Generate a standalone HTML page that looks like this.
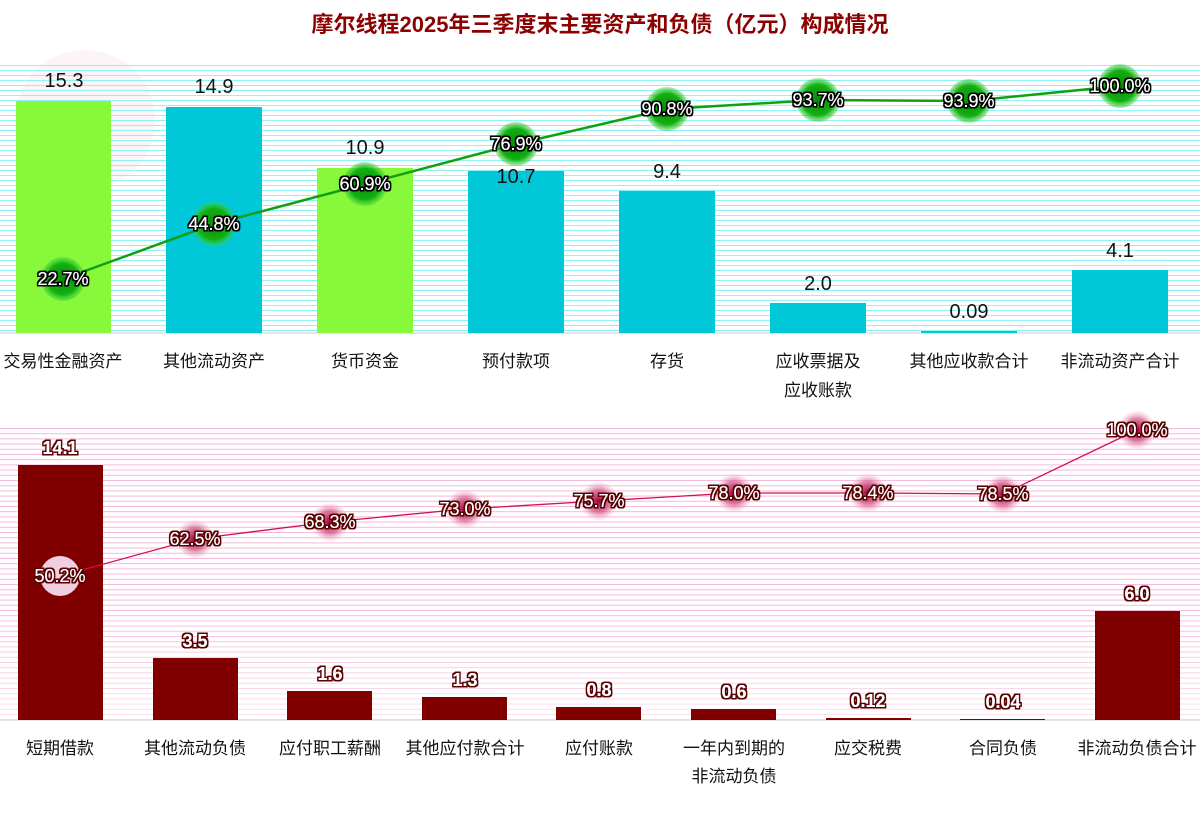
<!DOCTYPE html>
<html><head><meta charset="utf-8"><style>
body{margin:0;background:#fff;}
svg text{font-family:"Liberation Sans","Noto Sans CJK SC",sans-serif;}
</style></head><body>
<svg width="1200" height="821" xmlns="http://www.w3.org/2000/svg">
<defs>
<pattern id="cy" x="0" y="65" width="10" height="5" patternUnits="userSpaceOnUse"><rect x="0" y="0" width="10" height="1" fill="#8ff4f8"/></pattern>
<pattern id="pk" x="0" y="428" width="10" height="5.2" patternUnits="userSpaceOnUse"><rect x="0" y="0" width="10" height="1" fill="#f6b8dc"/></pattern>
<linearGradient id="fade" x1="0" y1="0" x2="0" y2="1"><stop offset="0" stop-color="#fff" stop-opacity="0"/><stop offset="1" stop-color="#fff" stop-opacity="0.6"/></linearGradient>
<radialGradient id="gg"><stop offset="0" stop-color="#0a8a0a"/><stop offset="0.7" stop-color="#12b012"/><stop offset="1" stop-color="#40d040" stop-opacity="0.4"/></radialGradient>
<radialGradient id="pg"><stop offset="0" stop-color="#a0003a"/><stop offset="0.6" stop-color="#d05080" stop-opacity="0.7"/><stop offset="1" stop-color="#f8c0d8" stop-opacity="0.2"/></radialGradient>
<filter id="ol"><feMorphology in="SourceAlpha" operator="dilate" radius="1.5" result="d"/><feFlood flood-color="#000"/><feComposite in2="d" operator="in" result="o"/><feMerge><feMergeNode in="o"/><feMergeNode in="SourceGraphic"/></feMerge></filter>
<filter id="olr"><feMorphology in="SourceAlpha" operator="dilate" radius="1.5" result="d"/><feFlood flood-color="#5a0000"/><feComposite in2="d" operator="in" result="o"/><feMerge><feMergeNode in="o"/><feMergeNode in="SourceGraphic"/></feMerge></filter>
</defs>
<circle cx="85" cy="120" r="70" fill="#fdf5f5"/>
<rect x="0" y="65" width="1200" height="268" fill="url(#cy)"/>
<rect x="0" y="428" width="1200" height="292" fill="url(#pk)"/>
<rect x="0" y="600" width="1200" height="120" fill="url(#fade)"/>
<text x="600" y="32" text-anchor="middle" font-size="22" font-weight="bold" fill="#8b0000" font-family="'Noto Serif CJK SC',serif">摩尔线程2025年三季度末主要资产和负债（亿元）构成情况</text>
<line x1="0" x2="1200" y1="333" y2="333" stroke="#ccc"/>
<line x1="0" x2="1200" y1="720" y2="720" stroke="#ccc"/>
<g>
<rect x="16" y="101" width="95" height="232" fill="#88f83a"/>
<rect x="166" y="107" width="96" height="226" fill="#00c8d8"/>
<rect x="317" y="168" width="96" height="165" fill="#88f83a"/>
<rect x="468" y="171" width="96" height="162" fill="#00c8d8"/>
<rect x="619" y="191" width="96" height="142" fill="#00c8d8"/>
<rect x="770" y="303" width="96" height="30" fill="#00c8d8"/>
<rect x="921" y="331" width="96" height="2" fill="#00c8d8"/>
<rect x="1072" y="270" width="96" height="63" fill="#00c8d8"/>
</g>
<g font-size="20" fill="#111" text-anchor="middle">
<text x="64" y="87">15.3</text><text x="214" y="93">14.9</text><text x="365" y="154">10.9</text><text x="516" y="183">10.7</text><text x="667" y="178">9.4</text><text x="818" y="290">2.0</text><text x="969" y="318">0.09</text><text x="1120" y="257">4.1</text>
</g>
<polyline fill="none" stroke="#10a010" stroke-width="2.5" points="63,279 214,224 365,184 516,144 667,109 818,100 969,101 1120,86"/>
<g fill="url(#gg)">
<circle cx="63" cy="279" r="22"/><circle cx="214" cy="224" r="22"/><circle cx="365" cy="184" r="22"/><circle cx="516" cy="144" r="22"/><circle cx="667" cy="109" r="22"/><circle cx="818" cy="100" r="22"/><circle cx="969" cy="101" r="22"/><circle cx="1120" cy="86" r="22"/>
</g>
<g font-size="18" fill="#fff" text-anchor="middle" filter="url(#ol)">
<text x="63" y="285">22.7%</text><text x="214" y="230">44.8%</text><text x="365" y="190">60.9%</text><text x="516" y="150">76.9%</text><text x="667" y="115">90.8%</text><text x="818" y="106">93.7%</text><text x="969" y="107">93.9%</text><text x="1120" y="92">100.0%</text>
</g>
<g font-size="17" fill="#111" text-anchor="middle">
<text x="63" y="367">交易性金融资产</text><text x="214" y="367">其他流动资产</text><text x="365" y="367">货币资金</text><text x="516" y="367">预付款项</text><text x="667" y="367">存货</text><text x="818" y="367">应收票据及</text><text x="818" y="396">应收账款</text><text x="969" y="367">其他应收款合计</text><text x="1120" y="367">非流动资产合计</text>
</g>
<g fill="#800000">
<rect x="18" y="465" width="85" height="255"/>
<rect x="153" y="658" width="85" height="62"/>
<rect x="287" y="691" width="85" height="29"/>
<rect x="422" y="697" width="85" height="23"/>
<rect x="556" y="707" width="85" height="13"/>
<rect x="691" y="709" width="85" height="11"/>
<rect x="826" y="718" width="85" height="2"/>
<rect x="960" y="719" width="85" height="1"/>
<rect x="1095" y="611" width="85" height="109"/>
</g>
<g font-size="18" font-weight="bold" fill="#fff" text-anchor="middle" filter="url(#olr)">
<text x="60" y="454">14.1</text><text x="195" y="647">3.5</text><text x="330" y="680">1.6</text><text x="465" y="686">1.3</text><text x="599" y="696">0.8</text><text x="734" y="698">0.6</text><text x="868" y="707">0.12</text><text x="1003" y="708">0.04</text><text x="1137" y="600">6.0</text>
</g>
<polyline fill="none" stroke="#d01050" stroke-width="1.3" points="60,576 195,539 330,522 465,509 599,501 734,493 868,493 1003,494 1137,430"/>
<g fill="url(#pg)">
<circle cx="60" cy="576" r="20" fill="#f0d0e0"/><circle cx="195" cy="539" r="19"/><circle cx="330" cy="522" r="19"/><circle cx="465" cy="509" r="19"/><circle cx="599" cy="501" r="19"/><circle cx="734" cy="493" r="19"/><circle cx="868" cy="493" r="19"/><circle cx="1003" cy="494" r="19"/><circle cx="1137" cy="430" r="19"/>
</g>
<g font-size="18" fill="#fff" text-anchor="middle" filter="url(#olr)">
<text x="60" y="582">50.2%</text><text x="195" y="545">62.5%</text><text x="330" y="528">68.3%</text><text x="465" y="515">73.0%</text><text x="599" y="507">75.7%</text><text x="734" y="499">78.0%</text><text x="868" y="499">78.4%</text><text x="1003" y="500">78.5%</text><text x="1137" y="436">100.0%</text>
</g>
<g font-size="17" fill="#111" text-anchor="middle">
<text x="60" y="754">短期借款</text><text x="195" y="754">其他流动负债</text><text x="330" y="754">应付职工薪酬</text><text x="465" y="754">其他应付款合计</text><text x="599" y="754">应付账款</text><text x="734" y="754">一年内到期的</text><text x="734" y="782">非流动负债</text><text x="868" y="754">应交税费</text><text x="1003" y="754">合同负债</text><text x="1137" y="754">非流动负债合计</text>
</g>
</svg>
</body></html>
